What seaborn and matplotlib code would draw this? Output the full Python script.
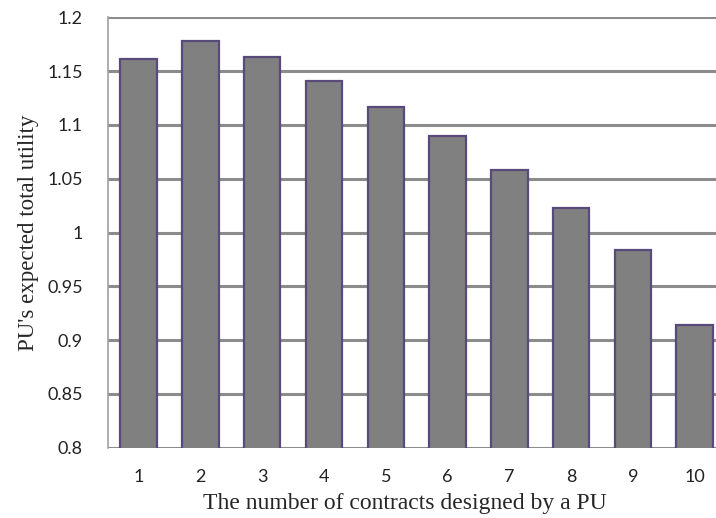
import numpy as np
import pandas as pd
import matplotlib
matplotlib.use("Agg")
import matplotlib.pyplot as plt
import seaborn as sns

# Data
contracts = ["1", "2", "3", "4", "5", "6", "7", "8", "9", "10"]
utility = [1.1615, 1.1783, 1.1631, 1.1411, 1.1169, 1.0900, 1.0578, 1.0225, 0.9835, 0.9140]
y_ticks = [0.8, 0.85, 0.9, 0.95, 1.0, 1.05, 1.1, 1.15, 1.2]
y_tick_labels = ["0.8", "0.85", "0.9", "0.95", "1", "1.05", "1.1", "1.15", "1.2"]

df = pd.DataFrame({"contracts": contracts, "utility": utility})

sns.set_style("white")

fig = plt.figure(figsize=(7.16, 5.18), dpi=100)
# the plot area runs past the right edge of the picture, as in the original
ax = fig.add_axes([0.1504, 0.1357, 0.8630, 0.8309])

sns.barplot(
    data=df,
    x="contracts",
    y="utility",
    color="#808080",
    saturation=1,
    width=0.59,
    edgecolor="#5a4a7c",
    linewidth=1.6,
    ax=ax,
    zorder=3,
)

ax.set_ylim(0.8, 1.2)
ax.set_xlim(-0.5, 9.5)
ax.set_yticks(y_ticks)
ax.set_yticklabels(y_tick_labels)

# horizontal gridlines
ax.yaxis.grid(True, color="#8c8c8c", linewidth=2.2, zorder=0)
ax.set_axisbelow(True)

for side in ["top", "right", "bottom"]:
    ax.spines[side].set_visible(False)
ax.spines["left"].set_color("#a0a0a0")
ax.spines["left"].set_linewidth(1.2)

ax.tick_params(axis="y", length=7, width=1.2, color="#a0a0a0", pad=11,
               labelsize=13, labelcolor="#222222")
ax.tick_params(axis="x", length=0, pad=15, labelsize=13, labelcolor="#222222")
for lbl in ax.get_xticklabels() + ax.get_yticklabels():
    lbl.set_family(["Lato", "DejaVu Sans"])

ax.set_xlabel("The number of contracts designed by a PU",
              family=["Liberation Serif", "DejaVu Serif"], fontsize=17, labelpad=8)
ax.xaxis.set_label_coords(0.481, -0.105)
ax.set_ylabel("PU's expected total utility",
              family=["Liberation Serif", "DejaVu Serif"], fontsize=16.5, labelpad=6)

fig.savefig("out.png", dpi=100)
